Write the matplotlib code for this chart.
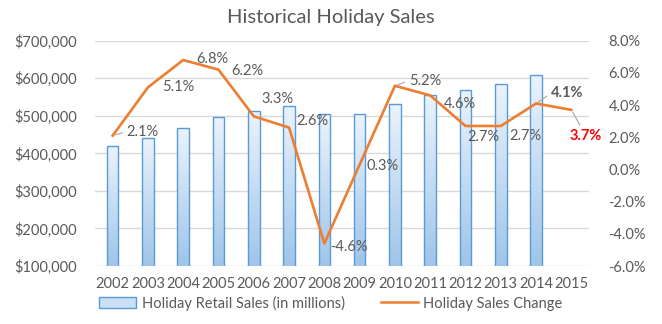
import numpy as np
import matplotlib.pyplot as plt
from matplotlib.colors import LinearSegmentedColormap
from matplotlib.ticker import FuncFormatter
from matplotlib.patches import Patch
from matplotlib.lines import Line2D

plt.rcParams['font.family'] = ['Lato', 'DejaVu Sans']

# data
years = ['2002', '2003', '2004', '2005', '2006', '2007', '2008',
         '2009', '2010', '2011', '2012', '2013', '2014', '2015']
sales = [418400, 439700, 468000, 496000, 514000, 527000, 504000,
         504000, 531000, 555000, 570000, 584000, 608500]
change = [2.1, 5.1, 6.8, 6.2, 3.3, 2.6, -4.6, 0.3, 5.2, 4.6, 2.7, 2.7, 4.1, 3.7]

# label offsets in pixels (dx, dy) for each point
label_off = [(30, 4), (30, 0), (29, 1), (29, -1), (24, 17), (23, 7), (25, -4),
             (23, -1), (30, 5), (30, -9), (18, -11), (25, -10), (31, 10), (14, -26)]
leaders = [0, 8, 12, 13]

gray = '#595959'
orange = '#ED7D31'
blue_edge = '#5B9BD5'

fig = plt.figure(figsize=(6.62, 3.24), dpi=100)
ax = fig.add_axes([95/662, 1-266/324, 494/662, 225.3/324])
ax2 = ax.twinx()

x = np.arange(len(years))
bars = ax.bar(x[:len(sales)], sales, width=0.33, bottom=0, facecolor='none',
              edgecolor=blue_edge, linewidth=1, zorder=2)
cmap = LinearSegmentedColormap.from_list('bargrad', ['#9FC5EA', '#EAF3FC'])
grad = np.linspace(0, 1, 100).reshape(-1, 1)
for b in bars:
    bx = b.get_x()
    img = ax.imshow(grad, cmap=cmap, aspect='auto', origin='lower',
                    extent=[bx, bx + b.get_width(), 100000, b.get_height()], zorder=1.5)
    img.set_clip_path(b)

ax.set_xlim(-0.5, len(years) - 0.5)
ax.set_ylim(100000, 700000)
ax.set_yticks(np.arange(100000, 700001, 100000))
ax.yaxis.set_major_formatter(FuncFormatter(lambda v, p: '${:,.0f}'.format(v)))
ax.set_xticks(x)
ax.set_xticklabels(years)
ax.grid(axis='y', color='#D9D9D9', linewidth=1, zorder=0)
ax.set_axisbelow(True)

ax2.plot(x, change, color=orange, linewidth=1.9, zorder=3)
ax2.set_ylim(-6, 8)
ax2.set_yticks(np.arange(-6, 8.1, 2))
ax2.yaxis.set_major_formatter(FuncFormatter(lambda v, p: '{:.1f}%'.format(v)))

for a in (ax, ax2):
    for s in a.spines.values():
        s.set_visible(False)
    a.tick_params(length=0, labelsize=10.5, labelcolor=gray)
ax.tick_params(axis='y', pad=13)
ax.tick_params(axis='x', pad=8)
ax2.tick_params(axis='y', pad=14)

for i, v in enumerate(change):
    dx, dy = label_off[i]
    color, weight = gray, 'normal'
    if i == 12:
        weight = 'bold'
    if i == 13:
        color, weight = '#FF0000', 'bold'
    props = None
    if i in leaders:
        props = dict(arrowstyle='-', color='#A6A6A6', lw=0.8, shrinkA=1, shrinkB=2,
                     relpos=(0, 0.5) if i != 13 else (0.4, 1))
    ax2.annotate('{:.1f}%'.format(v), (x[i], v), xytext=(dx, dy),
                 textcoords='offset pixels', ha='center', va='center',
                 fontsize=10.5, color=color, fontweight=weight,
                 arrowprops=props, zorder=4)

fig.text(0.5, 1 - 18/324, 'Historical Holiday Sales', ha='center', va='center',
         fontsize=14.5, color=gray)

handles = [Patch(facecolor='#C9E0F6', edgecolor=blue_edge, linewidth=1),
           Line2D([], [], color=orange, linewidth=1.8)]
fig.legend(handles, ['Holiday Retail Sales (in millions)', 'Holiday Sales Change'],
           loc='center', bbox_to_anchor=(0.5, 1 - 303/324), ncol=2, frameon=False,
           fontsize=10.5, labelcolor=gray, handlelength=2.5, handleheight=0.7,
           handletextpad=0.4, columnspacing=2.5)

fig.savefig('out.png', dpi=100)
